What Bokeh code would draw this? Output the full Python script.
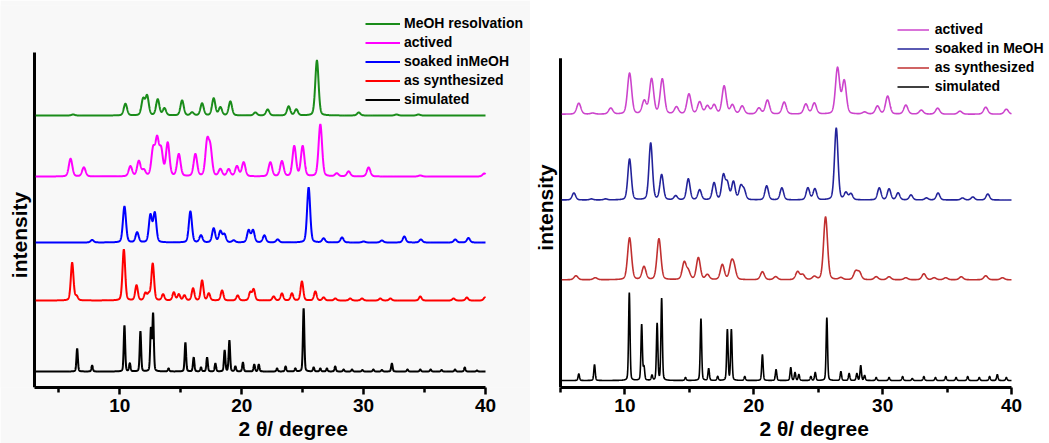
import numpy as np
from bokeh.plotting import figure
from bokeh.models import Range1d, FixedTicker, Legend, LegendItem, Label, Title
from bokeh.layouts import row
from bokeh.embed import file_html
from bokeh.resources import INLINE

# ---------------- data (2θ in degrees, intensity in arbitrary units) ----------------
xticks = [10, 20, 30, 40]
xminor = [5, 15, 25, 35]
x_title = "2 θ/ degree"
y_title = "intensity"
left_labels = ["MeOH resolvation", "actived", "soaked inMeOH", "as synthesized", "simulated"]
right_labels = ["actived", "soaked in MeOH", "as synthesized", "simulated"]

# Left panel
simL_pos = [6.50, 7.73, 10.38, 10.82, 11.69, 12.55, 12.73, 14.0, 15.38, 16.06, 16.66, 17.16, 17.84, 18.60,
            18.99, 19.48, 20.10, 21.03, 21.40, 22.90, 23.60, 24.40, 25.08, 25.90, 26.45, 26.99, 27.67, 28.36,
            29.05, 29.9, 30.80, 31.5, 32.32, 33.60, 34.65, 35.50, 36.4, 37.5, 38.30, 39.30]
simL_hgt = [23, 6, 46, 8, 40, 42, 57, 3, 29, 14, 4, 14, 8, 21, 31, 5, 9, 7, 7, 3, 5, 3, 63, 4, 3, 3, 5, 2,
            2, 1.5, 2, 1.5, 8, 2, 2, 2, 1.5, 2, 4, 1]
simL_base = 16

redL_pos = [6.09, 6.45, 10.33, 11.37, 12.10, 12.38, 12.70, 13.55, 14.43, 14.84, 15.30, 16.01, 16.75, 17.30,
            18.39, 19.67, 20.70, 20.98, 22.62, 23.30, 24.12, 24.94, 26.04, 26.72, 27.68, 28.90, 29.87, 31.37,
            32.20, 34.65, 37.38, 38.47, 39.95]
redL_hgt = [37.7, 4, 51, 15, 7, 6, 36.7, 6, 8, 6, 5, 12, 20, 7, 10, 5, 8, 11, 4, 7, 7, 19, 9, 3, 2, 2, 2, 2,
            2, 4, 2, 3, 3]
redL_base = 87

blueL_pos = [7.73, 10.38, 11.42, 12.51, 12.87, 15.79, 16.66, 17.70, 18.25, 18.58, 19.34, 20.57, 20.93, 21.86,
             22.95, 25.49, 26.72, 28.23, 30.0, 31.5, 33.34, 34.70, 37.52, 38.60]
blueL_hgt = [2.5, 36, 10, 27, 29, 31, 7, 14, 11, 8, 2, 12, 12, 7, 3, 55, 4, 5, 1, 2, 6, 3, 3, 4.5]
blueL_base = 145

magL_pos = [5.96, 7.05, 10.87, 11.56, 11.97, 12.73, 13.06, 13.39, 13.93, 14.84, 16.20, 17.16, 17.43, 18.25,
            18.93, 19.61, 20.16, 22.35, 23.30, 24.31, 25.00, 26.45, 27.80, 28.77, 30.41, 34.65, 39.90]
magL_hgt = [17.7, 9, 10, 15, 6, 26, 35, 25, 33, 22, 22, 33, 26, 7, 7, 10, 14, 14, 15, 30, 30, 52, 3, 5, 9,
            1, 3]
magL_base = 211

greenL_pos = [6.17, 10.46, 11.91, 12.24, 13.11, 13.66, 15.11, 15.93, 16.75, 17.70, 18.25, 19.07, 21.12, 22.13,
              23.85, 24.48, 26.17, 29.60, 32.70, 34.50]
greenL_hgt = [1, 11.7, 16, 19, 16, 7, 15, 3, 12, 17, 8, 14, 3, 6, 9, 6, 55, 3, 1, 1]
greenL_base = 272

# Right panel
simR_pos = [6.42, 7.64, 10.34, 11.30, 11.48, 12.10, 12.50, 12.85, 14.70, 15.90, 16.50, 17.20, 17.95, 18.26,
            19.30, 20.67, 21.73, 22.87, 23.20, 23.50, 24.43, 24.77, 25.67, 26.76, 27.40, 28.00, 28.30, 28.60,
            29.50, 30.50, 31.55, 32.30, 33.20, 34.10, 34.90, 35.70, 36.60, 37.50, 38.30, 38.90, 39.60]
simR_hgt = [6.7, 16, 88, 56, 13, 5, 57, 82, 3, 62, 12, 4, 51, 51, 4, 26, 11, 13, 8, 6, 4, 8, 63, 9, 7, 7,
            15, 5, 3, 3, 4, 2, 4, 3, 4, 3, 4, 3, 4, 6, 3]
simR_base = 7

redR_pos = [6.20, 7.70, 10.36, 11.48, 12.64, 14.60, 14.92, 15.70, 16.40, 17.56, 18.26, 18.47, 20.67, 21.70,
            23.40, 23.80, 24.70, 25.57, 26.76, 27.90, 28.20, 29.50, 30.50, 31.80, 33.20, 34.00, 34.90, 36.10,
            38.00, 39.30]
redR_hgt = [4, 2, 42, 13, 41, 17, 8, 22, 5, 15, 15, 11, 8, 3, 8, 5, 3, 63, 2, 8, 7, 3, 3, 2, 6, 2, 2, 3, 4, 2]
redR_base = 108

blueR_pos = [6.04, 7.40, 8.50, 10.36, 12.00, 12.85, 13.94, 14.92, 15.80, 16.92, 17.64, 17.95, 18.42, 18.99,
             19.25, 21.00, 22.18, 24.20, 24.74, 26.40, 27.15, 27.54, 29.74, 30.50, 31.20, 32.20, 33.40, 34.30,
             36.20, 37.00, 38.16]
blueR_hgt = [7, 1, 1, 41, 57, 25, 4, 21, 10, 17, 24, 16, 18, 13, 9, 14, 12, 12, 11, 72, 7, 6, 12, 11, 7, 5,
             2, 7, 2, 3, 6]
blueR_base = 188

magR_pos = [6.42, 7.5, 8.90, 10.36, 11.50, 12.07, 12.90, 14.00, 14.97, 15.80, 16.40, 16.92, 17.70, 18.34,
            19.10, 20.40, 21.06, 22.36, 24.04, 24.70, 26.50, 27.02, 28.6, 29.60, 30.39, 31.80, 33.0, 34.27,
            36.0, 38.00, 39.60]
magR_hgt = [11, 1, 6, 41, 13, 35, 35, 7, 20, 12, 8, 9, 28, 9, 8, 6, 14, 12, 10, 11, 46, 33, 2, 8, 18, 9, 4,
            6, 3, 7, 5]
magR_base = 274

# axis extents (data units)
left_xlim = (3, 40)
right_xlim = (5, 40)


# ---------------- rendering ----------------
FONT = "Liberation Sans"


def pattern(x, pos, hgt, base, hw):
    y = np.full_like(x, float(base))
    for c, h in zip(pos, hgt):
        d = ((x - c) / hw) ** 2
        y += h * (0.75 * np.exp(-np.log(2) * d) + 0.25 / (1.0 + d))
    return y


def make_fig(width, xlim, pad_left, pad_right, ytop, bb, bg, ybound, title_offset):
    # frame spans the whole figure width so the legend and labels are not clipped;
    # the axis lines are limited to the data extent.
    p = figure(width=width, height=443,
               x_range=Range1d(xlim[0] - pad_left, xlim[1] + pad_right), y_range=Range1d(0, ytop),
               output_backend="svg", toolbar_location=None, y_axis_location=None,
               min_border_left=0, min_border_right=0, min_border_top=5, min_border_bottom=bb)
    p.grid.visible = False
    p.outline_line_color = None
    p.background_fill_color = bg
    p.border_fill_color = bg
    xa = p.xaxis[0]
    xa.bounds = xlim
    xa.ticker = FixedTicker(ticks=xticks, minor_ticks=xminor)
    xa.axis_line_width = 3
    xa.major_tick_line_width = 2.5
    xa.minor_tick_line_width = 2.5
    xa.major_tick_out = 7
    xa.major_tick_in = 0
    xa.minor_tick_out = 5
    xa.minor_tick_in = 0
    xa.major_label_text_font = FONT
    xa.major_label_text_font_style = "bold"
    xa.major_label_text_font_size = "19px"
    xa.major_label_text_color = "black"
    xa.major_label_standoff = 4
    # x-axis title, positioned off-centre as in the original
    p.add_layout(Title(text=x_title, align="left", offset=title_offset, standoff=0,
                       text_font=FONT, text_font_style="bold", text_font_size="21px",
                       text_color="black"), "below")
    # y axis line (no ticks)
    p.segment(x0=[xlim[0]], y0=[0], x1=[xlim[0]], y1=[ybound], line_width=3, line_color="black")
    return p


def add_legend(p, items, loc, gw, standoff):
    leg = Legend(items=items, location=loc, glyph_width=gw, glyph_height=19, label_height=19,
                 label_standoff=standoff, spacing=0, padding=0, margin=0,
                 border_line_color=None, background_fill_alpha=0,
                 label_text_font=FONT, label_text_font_style="bold", label_text_font_size="14px",
                 label_text_color="black")
    p.add_layout(leg)


# Left panel: 12.19 px per degree
xl = np.arange(3.1, 40.0001, 0.01)
p1 = make_fig(530, left_xlim, 34 / 12.19, 45 / 12.19, 382, 56, "#f8f8f8", 335, 238)
left_series = [
    (greenL_pos, greenL_hgt, greenL_base, 0.16, "#1a8c1a"),
    (magL_pos, magL_hgt, magL_base, 0.17, "#ff00ff"),
    (blueL_pos, blueL_hgt, blueL_base, 0.15, "#0000ff"),
    (redL_pos, redL_hgt, redL_base, 0.13, "#ff0000"),
    (simL_pos, simL_hgt, simL_base, 0.07, "#000000"),
]
items = []
for lab, (pos, hgt, base, hw, col) in zip(left_labels, left_series):
    r = p1.line(xl, pattern(xl, pos, hgt, base, hw), line_color=col, line_width=2)
    items.append(LegendItem(label=lab, renderers=[r]))
add_legend(p1, items, (365, 278.5), 35, 4)
p1.add_layout(Label(x=18.5, y=152.5, x_units="screen", y_units="screen", text=y_title,
                    angle=np.pi / 2, text_align="center", text_baseline="middle",
                    text_font=FONT, text_font_style="bold", text_font_size="21px", text_color="black"))

# Right panel: 12.886 px per degree
xr = np.arange(5.1, 40.0001, 0.01)
p2 = make_fig(519, right_xlim, 30 / 12.886, 38 / 12.886, 383, 55, "#ffffff", 330, 229)
right_series = [
    (magR_pos, magR_hgt, magR_base, 0.19, "#cc44cc"),
    (blueR_pos, blueR_hgt, blueR_base, 0.16, "#23239a"),
    (redR_pos, redR_hgt, redR_base, 0.18, "#c03030"),
    (simR_pos, simR_hgt, simR_base, 0.065, "#000000"),
]
items = []
for lab, (pos, hgt, base, hw, col) in zip(right_labels, right_series):
    r = p2.line(xr, pattern(xr, pos, hgt, base, hw), line_color=col, line_width=1.6)
    items.append(LegendItem(label=lab, renderers=[r]))
add_legend(p2, items, (366.7, 291.2), 32, 6)
p2.add_layout(Label(x=15, y=180, x_units="screen", y_units="screen", text=y_title,
                    angle=np.pi / 2, text_align="center", text_baseline="middle",
                    text_font=FONT, text_font_style="bold", text_font_size="21px", text_color="black"))

layout = row(p1, p2)
open("out.html", "w").write(file_html(layout, INLINE))
